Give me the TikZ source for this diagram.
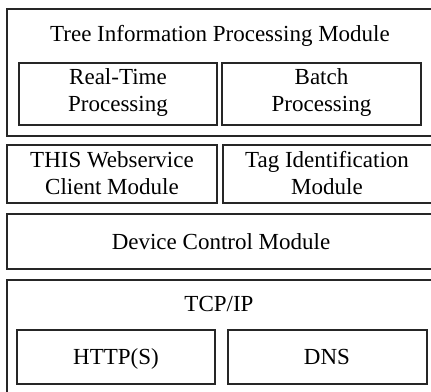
\documentclass[tikz,border=0pt]{standalone}
\usepackage{fontspec}
\setmainfont{Liberation Serif}
\begin{document}
\begin{tikzpicture}[x=1pt,y=-1pt,
  box/.style={draw=black!85,line width=1.1pt},
  lbl/.style={font=\fontsize{23}{27}\selectfont,align=center,inner sep=0pt,text=black}]
\useasboundingbox (0,0) rectangle (431,391);
\clip (0,0) rectangle (431,391);
% outer boxes
\draw[box] (7,9) rectangle (445,136);
\node[lbl,anchor=base] (tree) at (220,41) {Tree Information Processing Module};
\draw[box] (19,63) rectangle (217,125) coordinate (rtc);
\node[lbl] (rt) at (118,93) {Real-Time\\Processing};
\draw[box] (222,63) rectangle (421,125);
\node[lbl] (bp) at (321.5,93) {Batch\\Processing};

\draw[box] (7,145) rectangle (217,203);
\node[lbl] (ws) at (112,173) {THIS Webservice\\Client Module};
\draw[box] (223,145) rectangle (445,203);
\node[lbl] (tag) at (327,173) {Tag Identification\\Module};

\draw[box] (7,214) rectangle (445,269);
\node[lbl,anchor=base] (dev) at (221,249) {Device Control Module};

\draw[box] (7,280) rectangle (445,410);
\node[lbl,anchor=base] (tcp) at (219,311) {TCP/IP};
\draw[box] (17,330) rectangle (215,384);
\node[lbl,anchor=base] (http) at (116,364) {HTTP(S)};
\draw[box] (228,330) rectangle (427,384);
\node[lbl,anchor=base] (dns) at (327,364) {DNS};
\end{tikzpicture}
\end{document}
